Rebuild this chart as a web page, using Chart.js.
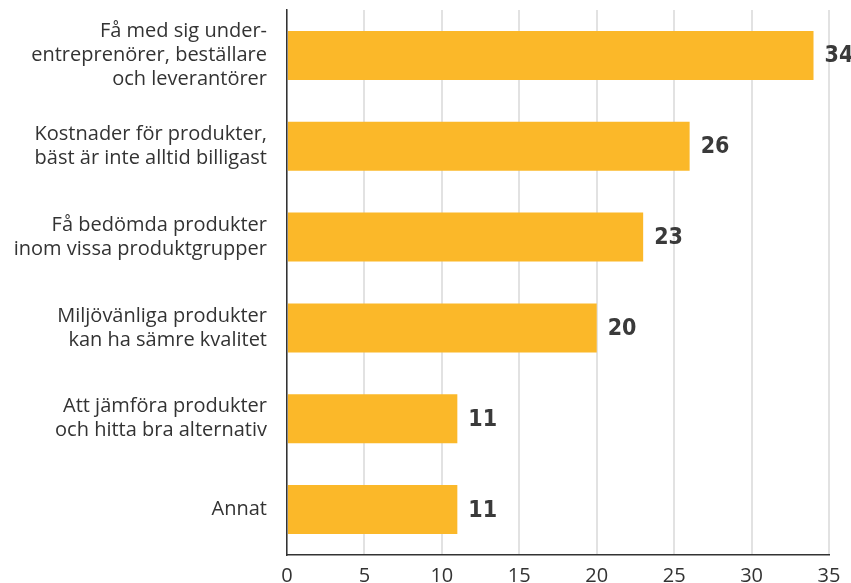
<!DOCTYPE html>
<html>
<head>
<meta charset="utf-8">
<script src="https://cdn.jsdelivr.net/npm/chart.js@4/dist/chart.umd.min.js"></script>
<style>
  html, body { margin: 0; padding: 0; background: #fff; }
  #wrap { width: 851px; height: 583px; }
</style>
</head>
<body>
<div id="wrap"><canvas id="chart"></canvas></div>
<script>
// Data
const categories = [
  ['Få med sig under-', 'entreprenörer, beställare', 'och leverantörer'],
  ['Kostnader för produkter,', 'bäst är inte alltid billigast'],
  ['Få bedömda produkter', 'inom vissa produktgrupper'],
  ['Miljövänliga produkter', 'kan ha sämre kvalitet'],
  ['Att jämföra produkter', 'och hitta bra alternativ'],
  'Annat'
];
const values = [34, 26, 23, 20, 11, 11];
const xTicks = [0, 5, 10, 15, 20, 25, 30, 35];

// Value labels at the end of each bar
const valueLabels = {
  id: 'valueLabels',
  afterDatasetsDraw(chart) {
    const ctx = chart.ctx;
    const meta = chart.getDatasetMeta(0);
    ctx.save();
    ctx.font = 'bold 23px "DejaVu Sans Condensed", "DejaVu Sans", sans-serif';
    ctx.fillStyle = '#3a3a3a';
    ctx.textAlign = 'left';
    ctx.textBaseline = 'middle';
    meta.data.forEach((bar, i) => {
      ctx.fillText(values[i], bar.x + 11, bar.y + 1);
    });
    ctx.restore();
  }
};

new Chart(document.getElementById('chart'), {
  type: 'bar',
  data: {
    labels: categories,
    datasets: [{
      data: values,
      backgroundColor: '#FBB829',
      borderWidth: 0,
      categoryPercentage: 0.54,
      barPercentage: 1
    }]
  },
  options: {
    indexAxis: 'y',
    responsive: true,
    maintainAspectRatio: false,
    animation: false,
    layout: { padding: { top: 10, right: 22, left: 0, bottom: 0 } },
    plugins: {
      legend: { display: false },
      tooltip: { enabled: false }
    },
    scales: {
      x: {
        min: 0,
        max: 35,
        afterBuildTicks: (scale) => { scale.ticks = xTicks.map(v => ({ value: v })); },
        afterFit: (scale) => {
          scale.height = 28;
          scale.paddingLeft = 0;
          scale.paddingRight = 0;
        },
        grid: { color: '#e2e2e2', lineWidth: 2, drawTicks: false },
        border: { color: '#333', width: 1.5 },
        ticks: {
          color: '#333',
          padding: 9,
          font: { family: '"Open Sans", sans-serif', size: 20 }
        }
      },
      y: {
        afterFit: (scale) => {
          scale.width = 287;
          scale.paddingTop = 0;
          scale.paddingBottom = 0;
        },
        grid: { display: false, drawTicks: false },
        border: { color: '#333', width: 1.5 },
        ticks: {
          color: '#333',
          padding: 20,
          crossAlign: 'near',
          font: { family: '"Open Sans", sans-serif', size: 20, lineHeight: '24px' }
        }
      }
    }
  },
  plugins: [valueLabels]
});
</script>
</body>
</html>
